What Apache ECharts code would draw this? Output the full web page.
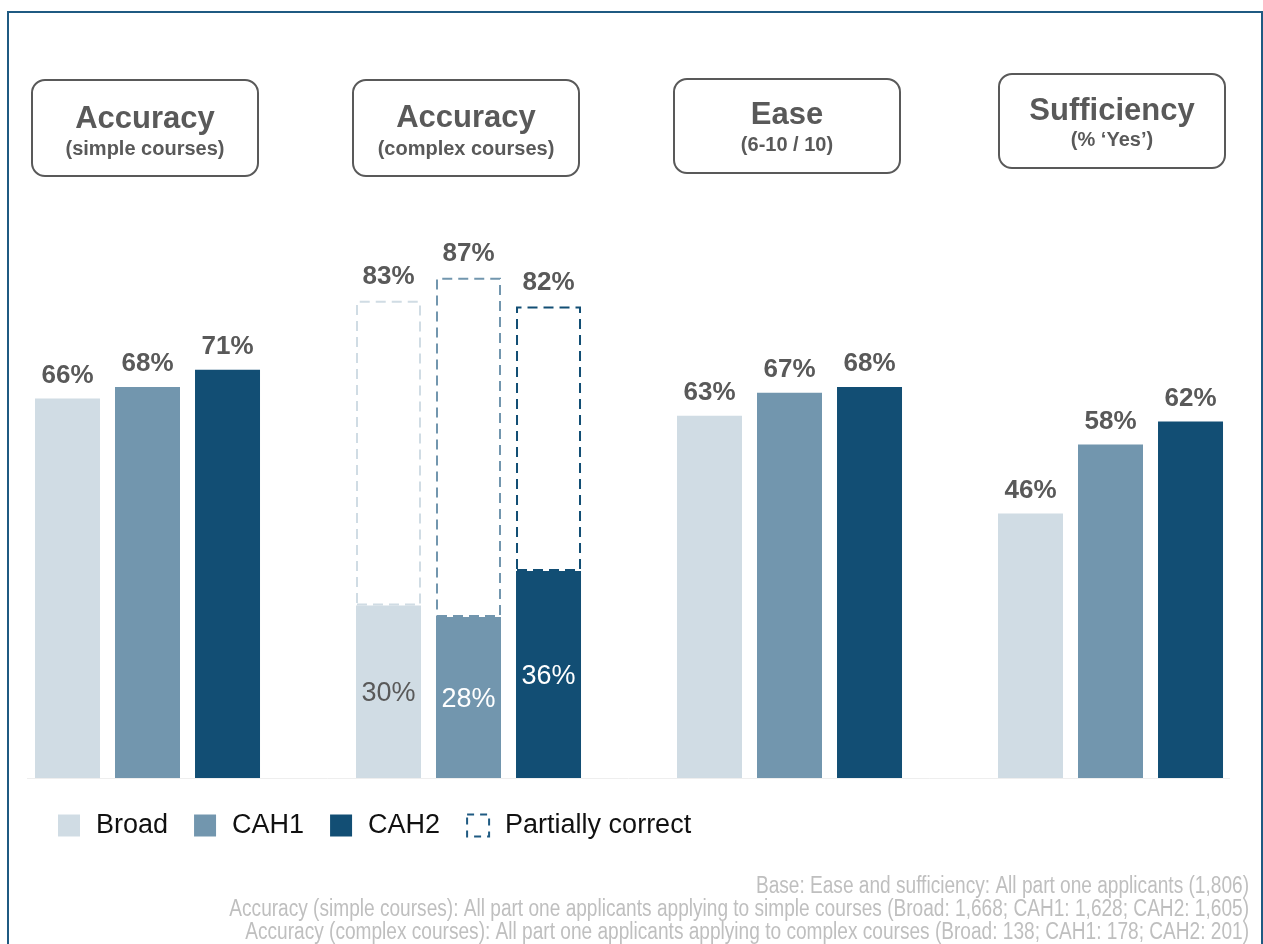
<!DOCTYPE html>
<html>
<head>
<meta charset="utf-8">
<script src="https://cdn.jsdelivr.net/npm/echarts@6/dist/echarts.min.js"></script>
<style>
  html, body { margin: 0; padding: 0; background: #fff; }
  #chart { width: 1263px; height: 944px; }
</style>
</head>
<body>
<div id="chart"></div>
<script>
// categories (one per header box)
var categories = ['Accuracy (simple)', 'Accuracy (complex)', 'Ease', 'Sufficiency'];
var headTitles = ['Accuracy', 'Accuracy', 'Ease', 'Sufficiency'];
var headSubs = ['(simple courses)', '(complex courses)', '(6-10 / 10)', '(% \u2018Yes\u2019)'];

// fully correct / main values
var broad = [66, 30, 63, 46];
var cah1 = [68, 28, 67, 58];
var cah2 = [71, 36, 68, 62];

// totals incl. partially correct (complex courses only)
var broadTotal = [null, 83, null, null];
var cah1Total = [null, 87, null, null];
var cah2Total = [null, 82, null, null];

var footnotes = [
    'Base: Ease and sufficiency: All part one applicants (1,806)',
    'Accuracy (simple courses): All part one applicants applying to simple courses (Broad: 1,668; CAH1: 1,628; CAH2: 1,605)',
    'Accuracy (complex courses): All part one applicants applying to complex courses (Broad: 138; CAH1: 178; CAH2: 201)'
];

var C_BROAD = '#d0dce4', C_CAH1 = '#7296ae', C_CAH2 = '#124e74';
var GREY = '#595959';
var FONT = '"Liberation Sans", Arial, sans-serif';

//实心柱
function solidSeries(name, vals, totals, color, stack, innerColor) {
    return {
        name: name,
        type: 'bar',
        stack: stack,
        barWidth: 65,
        barGap: '23.1%',
        itemStyle: { color: color },
        data: vals.map(function (v, i) {
            var inside = totals[i] != null;
            return {
                value: v,
                label: inside ? {
                    show: true, position: 'inside', offset: [0, 2], fontSize: 27, fontWeight: 'normal',
                    color: innerColor
                } : {
                    show: true, position: 'top', distance: 10, fontSize: 26, fontWeight: 'bold',
                    color: GREY
                }
            };
        }),
        label: { formatter: '{c}%', fontFamily: FONT }
    };
}

//虚线部分 (partially correct)
function partialSeries(vals, totals, color, stack) {
    return {
        name: 'Partially correct',
        type: 'bar',
        stack: stack,
        barWidth: 65,
        barGap: '23.1%',
        itemStyle: {
            color: 'rgba(0,0,0,0)',
            borderColor: color,
            borderWidth: 2,
            borderType: [10, 6]
        },
        label: {
            show: true, position: 'top', distance: 11, fontSize: 26, fontWeight: 'bold',
            color: GREY, fontFamily: FONT,
            formatter: function (p) { return totals[p.dataIndex] + '%'; }
        },
        data: totals.map(function (t, i) { return t == null ? null : t - vals[i]; })
    };
}

var boxes = [
    { x: 32, y: 80, w: 226, h: 96, ty: 119, sy: 149 },
    { x: 353, y: 80, w: 226, h: 96, ty: 118, sy: 149 },
    { x: 674, y: 79, w: 226, h: 94, ty: 115, sy: 145 },
    { x: 999, y: 74, w: 226, h: 94, ty: 111, sy: 140 }
];

var graphics = [
    {
        type: 'rect', left: 7, top: 11, z: 0,
        shape: { width: 1254, height: 960 },
        style: { fill: '#fff', stroke: '#1f5a82', lineWidth: 2 }
    },
    {
        type: 'line', z: 1,
        shape: { x1: 27, y1: 778.5, x2: 1230, y2: 778.5 },
        style: { stroke: '#eeeeee', lineWidth: 1 }
    }
];

boxes.forEach(function (b, i) {
    graphics.push({
        type: 'rect', z: 5,
        shape: { x: b.x, y: b.y, width: b.w, height: b.h, r: 13 },
        style: { fill: '#fff', stroke: GREY, lineWidth: 2 }
    });
    graphics.push({
        type: 'text', z: 6, x: b.x + b.w / 2, y: b.ty,
        style: {
            text: headTitles[i], fill: GREY, align: 'center', verticalAlign: 'middle',
            font: 'bold 31px ' + FONT
        }
    });
    graphics.push({
        type: 'text', z: 6, x: b.x + b.w / 2, y: b.sy,
        style: {
            text: headSubs[i], fill: GREY, align: 'center', verticalAlign: 'middle',
            font: 'bold 20px ' + FONT
        }
    });
});

// footnotes: narrow look by squeezing horizontally
footnotes.forEach(function (t, i) {
    graphics.push({
        type: 'text', z: 6, x: 1249, y: 887 + i * 23, scaleX: 0.83,
        style: {
            text: t, fill: '#bfbfbf', align: 'right', verticalAlign: 'middle',
            font: '23px ' + FONT
        }
    });
});

var chart = echarts.init(document.getElementById('chart'));

chart.setOption({
    backgroundColor: '#fff',
    animation: false,
    graphic: graphics,
    grid: { left: -13, right: -8, top: 203, bottom: 166, outerBoundsMode: 'none', containLabel: false },
    xAxis: {
        type: 'category',
        data: categories,
        axisLine: { show: false },
        axisTick: { show: false },
        axisLabel: { show: false }
    },
    yAxis: {
        type: 'value', min: 0, max: 100,
        show: false,
        splitLine: { show: false }
    },
    legend: {
        left: 58, top: 812, padding: 0,
        itemWidth: 22, itemHeight: 22, itemGap: 26,
        icon: 'rect',
        textStyle: {
            fontSize: 27, color: '#111', fontFamily: FONT,
            padding: [0, 0, 0, 11]
        },
        data: [
            { name: 'Broad' },
            { name: 'CAH1' },
            { name: 'CAH2' },
            {
                name: 'Partially correct',
                itemStyle: { color: 'rgba(0,0,0,0)', borderColor: '#1f5a82', borderWidth: 2, borderType: [7, 6] }
            }
        ]
    },
    series: [
        solidSeries('Broad', broad, broadTotal, C_BROAD, 'b', GREY),
        partialSeries(broad, broadTotal, C_BROAD, 'b'),
        solidSeries('CAH1', cah1, cah1Total, C_CAH1, 'c1', '#fff'),
        partialSeries(cah1, cah1Total, C_CAH1, 'c1'),
        solidSeries('CAH2', cah2, cah2Total, C_CAH2, 'c2', '#fff'),
        partialSeries(cah2, cah2Total, C_CAH2, 'c2')
    ]
});
</script>
</body>
</html>
